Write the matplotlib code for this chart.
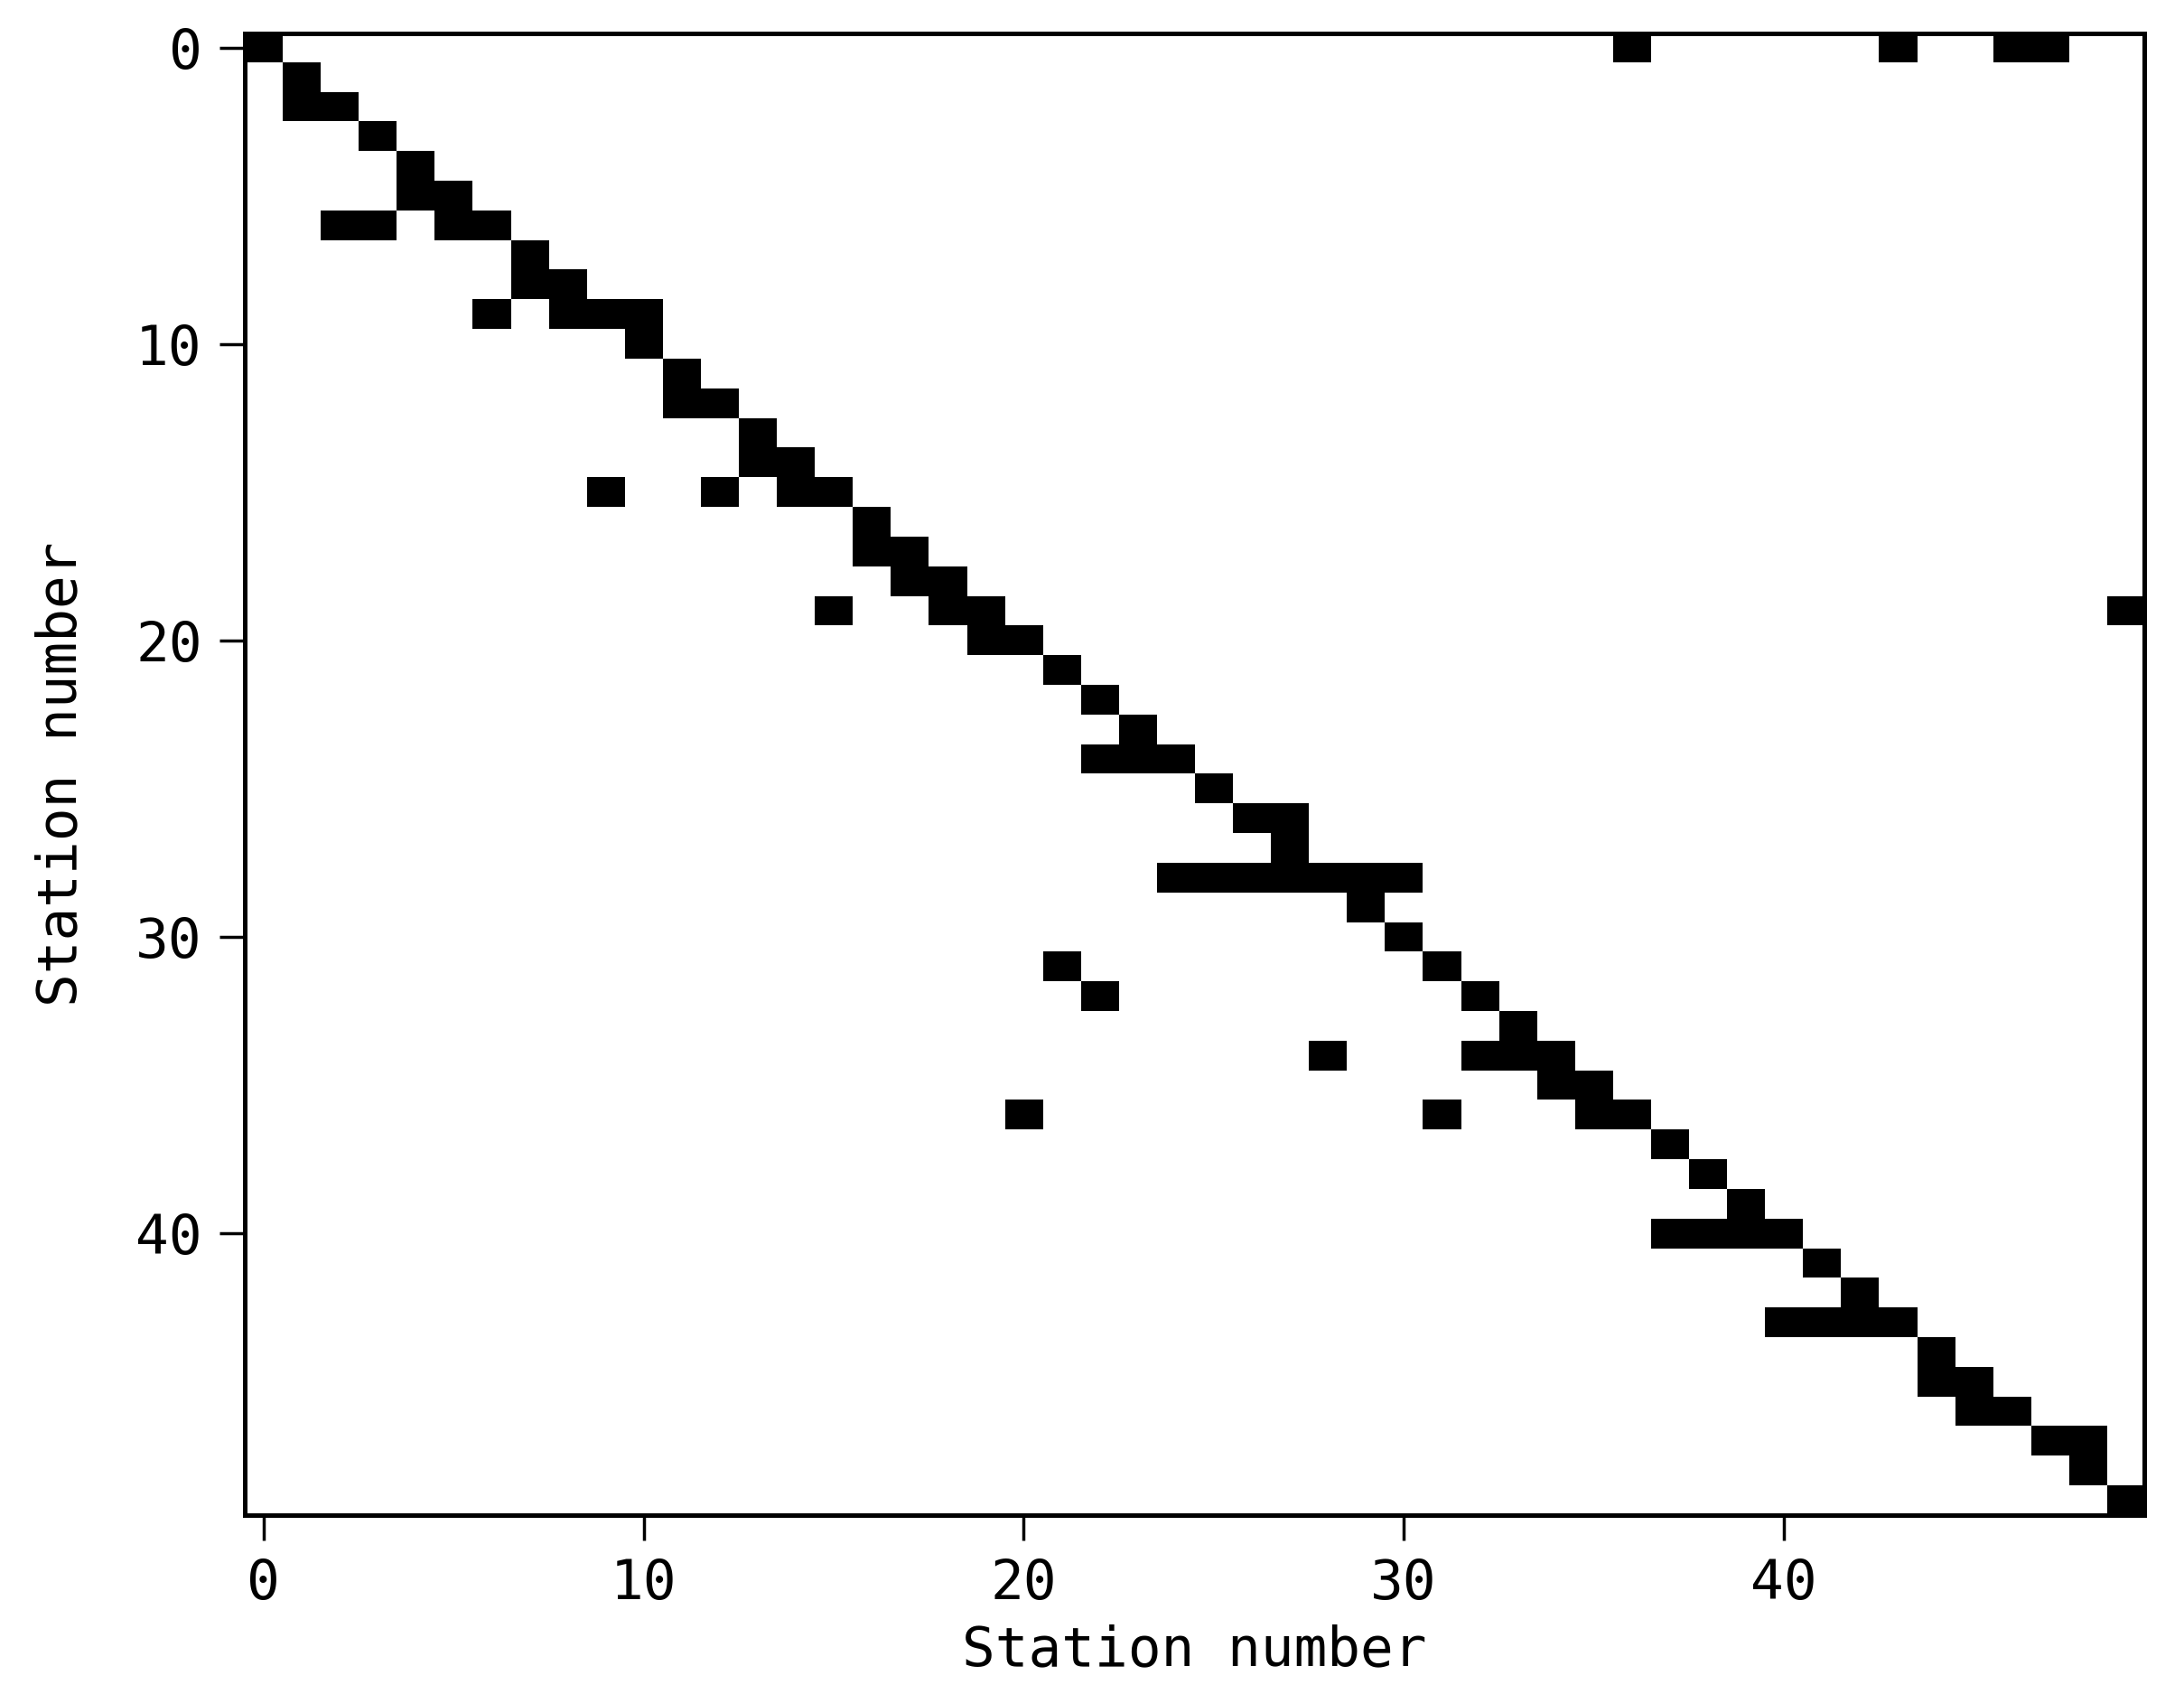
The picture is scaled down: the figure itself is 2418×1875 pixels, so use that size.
import numpy as np
import matplotlib
matplotlib.use("Agg")
from matplotlib import pyplot as plt

plt.rcParams['font.family'] = ['DejaVu Sans Mono']

n_stations = 50

# for each station (row) the stations it is marked against (columns)
station_rows = list(range(n_stations))
linked_cols = [
    [0, 36, 43, 46, 47],
    [1],
    [1, 2],
    [3],
    [4],
    [4, 5],
    [2, 3, 5, 6],
    [7],
    [7, 8],
    [6, 8, 9, 10],
    [10],
    [11],
    [11, 12],
    [13],
    [13, 14],
    [9, 12, 14, 15],
    [16],
    [16, 17],
    [17, 18],
    [15, 18, 19, 49],
    [19, 20],
    [21],
    [22],
    [23],
    [22, 23, 24],
    [25],
    [26, 27],
    [27],
    [24, 25, 26, 27, 28, 29, 30],
    [29],
    [30],
    [21, 31],
    [22, 32],
    [33],
    [28, 32, 33, 34],
    [34, 35],
    [20, 31, 35, 36],
    [37],
    [38],
    [39],
    [37, 38, 39, 40],
    [41],
    [42],
    [40, 41, 42, 43],
    [44],
    [44, 45],
    [45, 46],
    [47, 48],
    [48],
    [49],
]

M = np.zeros((n_stations, n_stations))
for r, cs in zip(station_rows, linked_cols):
    M[r, cs] = 1

fig = plt.figure(figsize=(24.18, 18.75), dpi=100)
ax = fig.add_axes([0.112, 0.1056, 0.870, 0.8747])
ax.imshow(M, cmap='binary', interpolation='nearest', aspect='auto')

ax.set_xticks([0, 10, 20, 30, 40])
ax.set_yticks([0, 10, 20, 30, 40])
ax.tick_params(labelsize=44, length=20, width=2.5, pad=14)
for s in ax.spines.values():
    s.set_linewidth(3.6)

ax.set_xlabel("Station number", fontsize=44, labelpad=10)
ax.set_ylabel("Station number", fontsize=44, labelpad=38)

fig.savefig("out.png", dpi=100)
